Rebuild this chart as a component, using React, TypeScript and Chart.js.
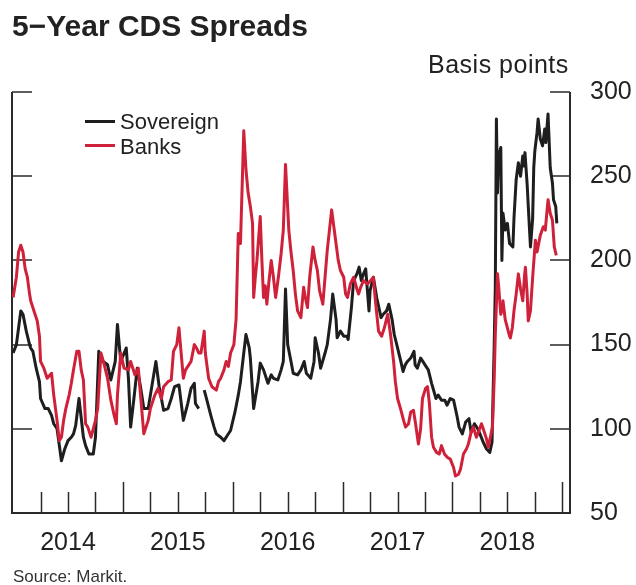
import React, { useEffect, useRef } from "react";
import { Chart, registerables } from "chart.js";

Chart.register(...registerables);

// ---- Data ----
const yearLabels = [2014, 2015, 2016, 2017, 2018];
const yTickValues = [50, 100, 150, 200, 250, 300];

const sovDates = [
  2014.00, 2014.03, 2014.05, 2014.07, 2014.09, 2014.12, 2014.15, 2014.16, 2014.18, 2014.21, 2014.24, 2014.25, 2014.29, 2014.32, 2014.35, 2014.37, 2014.40, 2014.44, 2014.47, 2014.50, 2014.53, 2014.55, 2014.57, 2014.60, 2014.64, 2014.66, 2014.69, 2014.73, 2014.75, 2014.78, 2014.82, 2014.86, 2014.89, 2014.93, 2014.95, 2014.98,
  2015.03, 2015.05, 2015.07, 2015.10, 2015.13, 2015.16, 2015.19, 2015.23, 2015.25, 2015.30, 2015.33, 2015.35, 2015.37, 2015.41, 2015.44, 2015.47, 2015.51, 2015.55, 2015.59, 2015.62, 2015.65, 2015.66, 2015.69, 2015.71, 2015.74, 2015.76, 2015.80, 2015.83, 2015.85, 2015.89, 2015.92, 2015.95, 2015.98,
  2016.02, 2016.05, 2016.07, 2016.10, 2016.12, 2016.15, 2016.16, 2016.19, 2016.23, 2016.25, 2016.28, 2016.32, 2016.35, 2016.37, 2016.41, 2016.44, 2016.46, 2016.48, 2016.50, 2016.53, 2016.55, 2016.59, 2016.62, 2016.65, 2016.67, 2016.71, 2016.74, 2016.75, 2016.78, 2016.80, 2016.84, 2016.86, 2016.89, 2016.91, 2016.94, 2016.95, 2016.98,
  2017.01, 2017.04, 2017.05, 2017.08, 2017.10, 2017.13, 2017.15, 2017.17, 2017.19, 2017.21, 2017.24, 2017.25, 2017.28, 2017.31, 2017.33, 2017.35, 2017.37, 2017.40, 2017.42, 2017.45, 2017.47, 2017.50, 2017.53, 2017.55, 2017.57, 2017.59, 2017.62, 2017.65, 2017.66, 2017.68, 2017.71, 2017.73, 2017.75, 2017.78, 2017.81, 2017.85, 2017.87, 2017.90, 2017.93, 2017.95, 2017.98,
  2018.01, 2018.04, 2018.06, 2018.09, 2018.12, 2018.15, 2018.17, 2018.20, 2018.23, 2018.25, 2018.28, 2018.31, 2018.34, 2018.36, 2018.38, 2018.39, 2018.40, 2018.41, 2018.42, 2018.44, 2018.45, 2018.46, 2018.48, 2018.50, 2018.52, 2018.55, 2018.56, 2018.58, 2018.60, 2018.62, 2018.64, 2018.65, 2018.66, 2018.68, 2018.70, 2018.71, 2018.73, 2018.74, 2018.75, 2018.77, 2018.78, 2018.80, 2018.82, 2018.84, 2018.85, 2018.87, 2018.89, 2018.91, 2018.92, 2018.94, 2018.95,
];
const sovValues = [
  145, 150, 160, 170, 168, 158, 150, 148, 146, 136, 128, 118, 112, 112, 108, 103, 100, 81, 88, 93, 95, 97, 102, 118, 95, 90, 85, 85, 95, 146, 140, 138, 129, 140, 162, 140,
  148, 130, 101, 118, 136, 125, 112, 112, 120, 140, 125, 118, 111, 112, 118, 125, 126, 105, 115, 124, 127, 115, 112, null, 123, 118, 108, 101, 97, 95, 93, 96, 99,
  110, 120, 128, 145, 156, 148, 142, 112, 128, 139, 135, 127, 132, 130, 129, 135, 140, 183, 150, 140, 133, 132, 135, 140, 133, 130, 140, 154, 145, 136, 145, 150, 165, 180, 165, 154, 158,
  155, 155, 153, 172, 188, 192, 196, 188, 192, 195, 170, 182, 190, 178, 172, 166, 168, 170, 174, 165, 156, 148, 140, 134, 138, 140, 142, 146, 138, 136, 142, 140, 138, 135, 127, 118, 120, 117, 117, 114, 118,
  117, 108, 101, 97, 104, 106, 98, 103, 100, 97, 92, 88, 86, 92, 150, 184, 284, 240, 262, 267, 200, 228, 218, 222, 210, 208, 225, 248, 258, 250, 262, 256, 264, 245, 220, 208, 225, 255, 265, 276, 284, 272, 268, 278, 270, 287, 255, 246, 236, 232, 222,
];

const bankDates = [
  2014.00, 2014.03, 2014.05, 2014.07, 2014.09, 2014.11, 2014.13, 2014.15, 2014.16, 2014.19, 2014.22, 2014.24, 2014.25, 2014.28, 2014.31, 2014.35, 2014.37, 2014.40, 2014.42, 2014.44, 2014.46, 2014.48, 2014.51, 2014.53, 2014.55, 2014.58, 2014.60, 2014.62, 2014.64, 2014.66, 2014.68, 2014.71, 2014.75, 2014.77, 2014.80, 2014.83, 2014.86, 2014.89, 2014.92, 2014.94, 2014.95, 2014.98,
  2015.01, 2015.05, 2015.07, 2015.11, 2015.14, 2015.16, 2015.19, 2015.23, 2015.25, 2015.29, 2015.32, 2015.35, 2015.37, 2015.41, 2015.44, 2015.46, 2015.49, 2015.51, 2015.53, 2015.55, 2015.57, 2015.60, 2015.62, 2015.65, 2015.67, 2015.69, 2015.71, 2015.74, 2015.75, 2015.78, 2015.81, 2015.85, 2015.87, 2015.89, 2015.92, 2015.94, 2015.96, 2015.98,
  2016.01, 2016.03, 2016.05, 2016.07, 2016.10, 2016.12, 2016.14, 2016.16, 2016.18, 2016.19, 2016.205, 2016.22, 2016.25, 2016.265, 2016.28, 2016.295, 2016.31, 2016.33, 2016.35, 2016.37, 2016.39, 2016.415, 2016.44, 2016.46, 2016.48, 2016.51, 2016.53, 2016.55, 2016.57, 2016.59, 2016.62, 2016.645, 2016.66, 2016.68, 2016.70, 2016.73, 2016.75, 2016.77, 2016.79, 2016.82, 2016.84, 2016.86, 2016.88, 2016.90, 2016.92, 2016.94, 2016.96, 2016.98,
  2017.01, 2017.027, 2017.045, 2017.07, 2017.10, 2017.13, 2017.145, 2017.164, 2017.19, 2017.227, 2017.255, 2017.28, 2017.30, 2017.327, 2017.355, 2017.38, 2017.41, 2017.436, 2017.464, 2017.48, 2017.50, 2017.527, 2017.555, 2017.573, 2017.60, 2017.62, 2017.645, 2017.664, 2017.69, 2017.71, 2017.727, 2017.755, 2017.773, 2017.79, 2017.81, 2017.827, 2017.855, 2017.88, 2017.90, 2017.927, 2017.955, 2017.98,
  2018.01, 2018.027, 2018.055, 2018.073, 2018.10, 2018.127, 2018.145, 2018.17, 2018.19, 2018.218, 2018.236, 2018.264, 2018.28, 2018.31, 2018.327, 2018.345, 2018.364, 2018.38, 2018.39, 2018.41, 2018.42, 2018.44, 2018.455, 2018.46, 2018.48, 2018.50, 2018.52, 2018.527, 2018.545, 2018.56, 2018.58, 2018.60, 2018.62, 2018.64, 2018.655, 2018.664, 2018.68, 2018.69, 2018.71, 2018.73, 2018.755, 2018.77, 2018.80, 2018.827, 2018.845, 2018.87, 2018.89, 2018.91, 2018.927, 2018.945,
];
const bankValues = [
  178, 190, 205, 209, 205, 195, 190, 180, 176, 170, 164, 155, 140, 136, 130, 133, 120, 105, 93, 95, 105, 112, 120, 127, 135, 146, 146, 135, 129, 103, 101, 95, 105, 112, 145, 138, 130, 117, 108, 103, 120, 145,
  136, 135, 140, 132, 136, 120, 97, 105, 112, 120, 124, 118, 125, 128, 129, 146, 150, 160, 145, 130, 135, 138, 140, 150, 148, 145, 145, 158, 145, 130, 125, 123, 128, 130, 135, 140, 137, 145,
  150, 165, 216, 210, 277, 254, 240, 232, 222, 178, 190, 200, 226, 200, 178, 185, 174, 188, 200, 190, 178, 190, 204, 218, 257, 218, 205, 194, 180, 170, 166, 184, 178, 172, 190, 208, 200, 194, 182, 174, 190, 206, 218, 230, 220, 210, 200, 194,
  190, 180, 178, 186, 190, 183, 180, 184, 188, 186, 188, 190, 175, 158, 155, 160, 168, 156, 140, 128, 118, 112, 105, 101, 103, 110, 111, 103, 91, 100, 118, 124, 125, 115, 95, 89, 86, 85, 90, 85, 83, 82,
  77, 72, 73, 76, 85, 88, 91, 98, 101, 95, 98, 103, 100, 94, 89, 95, 101, 130, 156, 192, 185, 168, 172, 176, 165, 160, 155, 154, 160, 170, 180, 192, 183, 176, 190, 196, 180, 164, 170, 190, 212, 205, 215, 220, 218, 236, 228, 224, 208, 203,
];

const SOV_COLOR = "#1e1e1e";
const BANK_COLOR = "#d0213a";
const AXIS_COLOR = "#2a2a2a";
const FONT = "'Liberation Sans', Arial, Helvetica, sans-serif";

const framePlugin = {
  id: "frame",
  beforeDatasetsDraw(chart: any) {
    const { ctx, chartArea: a, scales } = chart;
    ctx.save();
    ctx.strokeStyle = AXIS_COLOR;
    ctx.lineWidth = 2;
    ctx.beginPath();
    ctx.moveTo(a.left, a.top);
    ctx.lineTo(a.left, a.bottom + 1);
    ctx.moveTo(a.right, a.top);
    ctx.lineTo(a.right, a.bottom + 1);
    ctx.moveTo(a.left - 1, a.bottom);
    ctx.lineTo(a.right + 1, a.bottom);
    ctx.stroke();
    ctx.lineWidth = 1.5;
    ctx.beginPath();
    yTickValues.forEach((v) => {
      if (v <= scales.y.min) return;
      const y = Math.round(scales.y.getPixelForValue(v));
      ctx.moveTo(a.left, y);
      ctx.lineTo(a.left + 20, y);
      ctx.moveTo(a.right, y);
      ctx.lineTo(a.right - 20, y);
    });
    const x0 = scales.x.min;
    const x1 = scales.x.max;
    for (let yr = 2014; yr <= 2019; yr++) {
      for (let q = 0; q < 4; q++) {
        const t = yr + q / 4;
        if (t <= x0 + 0.02 || t > x1) continue;
        const x = Math.round(scales.x.getPixelForValue(t)) + 0.5;
        const len = q === 0 ? 31 : 21;
        ctx.moveTo(x, a.bottom);
        ctx.lineTo(x, a.bottom - len);
      }
    }
    ctx.stroke();
    ctx.restore();
  },
};

export default function App() {
  const ref = useRef<HTMLCanvasElement>(null);

  useEffect(() => {
    const sov = sovDates.map((d, i) => ({ x: d, y: sovValues[i] }));
    const banks = bankDates.map((d, i) => ({ x: d, y: bankValues[i] }));
    const chart = new Chart(ref.current as HTMLCanvasElement, {
      type: "line",
      data: {
        datasets: [
          {
            label: "Sovereign",
            data: sov as any,
            borderColor: SOV_COLOR,
            backgroundColor: SOV_COLOR,
            borderWidth: 3,
            pointRadius: 0,
            spanGaps: false,
            tension: 0,
            borderJoinStyle: "round",
            order: 1,
          },
          {
            label: "Banks",
            data: banks as any,
            borderColor: BANK_COLOR,
            backgroundColor: BANK_COLOR,
            borderWidth: 3,
            pointRadius: 0,
            tension: 0,
            borderJoinStyle: "round",
            order: 0,
          },
        ],
      },
      options: {
        responsive: false,
        maintainAspectRatio: false,
        animation: false,
        devicePixelRatio: 1,
        layout: { padding: { left: 12, top: 92, right: 0, bottom: 0 } },
        plugins: {
          legend: { display: false },
          tooltip: { enabled: false },
        },
        scales: {
          x: {
            type: "linear",
            position: "bottom",
            min: 2013.99,
            max: 2019.07,
            grid: { display: false, drawTicks: false },
            border: { display: false },
            afterBuildTicks: (s: any) => {
              s.ticks = yearLabels.map((y) => ({ value: y + 0.5 }));
            },
            afterFit: (s: any) => {
              s.height = 72;
            },
            ticks: {
              autoSkip: false,
              maxRotation: 0,
              padding: 15,
              color: "#222",
              font: { family: FONT, size: 25 },
              callback: (_v: any, i: number) => String(yearLabels[i]),
            },
          },
          y: {
            type: "linear",
            position: "right",
            min: 50,
            max: 300,
            grid: { display: false, drawTicks: false },
            border: { display: false },
            afterBuildTicks: (s: any) => {
              s.ticks = yTickValues.map((v) => ({ value: v }));
            },
            afterFit: (s: any) => {
              s.width = 66;
            },
            ticks: {
              padding: 20,
              color: "#222",
              font: { family: FONT, size: 25 },
              callback: (v: any) => String(v),
            },
          },
        },
      },
      plugins: [framePlugin],
    });
    return () => chart.destroy();
  }, []);

  const text: React.CSSProperties = {
    position: "absolute",
    fontFamily: FONT,
    lineHeight: 1,
    color: "#222",
    whiteSpace: "nowrap",
  };

  return (
    <div
      style={{
        position: "absolute",
        left: 0,
        top: 0,
        width: 636,
        height: 585,
        background: "#fff",
        overflow: "hidden",
      }}
    >
      <canvas
        ref={ref}
        width={636}
        height={585}
        style={{ position: "absolute", left: 0, top: 0, width: 636, height: 585 }}
      />
      <div style={{ ...text, left: 12, top: 11, fontSize: 30, fontWeight: "bold" }}>
        5−Year CDS Spreads
      </div>
      <div style={{ ...text, left: 428, top: 52, fontSize: 25, letterSpacing: 0.5 }}>
        Basis points
      </div>
      <div
        style={{
          position: "absolute",
          left: 85,
          top: 119.5,
          width: 30,
          height: 3,
          background: SOV_COLOR,
        }}
      />
      <div style={{ ...text, left: 120, top: 110.5, fontSize: 22 }}>Sovereign</div>
      <div
        style={{
          position: "absolute",
          left: 85,
          top: 143.5,
          width: 30,
          height: 3,
          background: BANK_COLOR,
        }}
      />
      <div style={{ ...text, left: 120, top: 135.5, fontSize: 22 }}>Banks</div>
      <div style={{ ...text, left: 13, top: 568, fontSize: 17, color: "#333" }}>
        Source: Markit.
      </div>
    </div>
  );
}
